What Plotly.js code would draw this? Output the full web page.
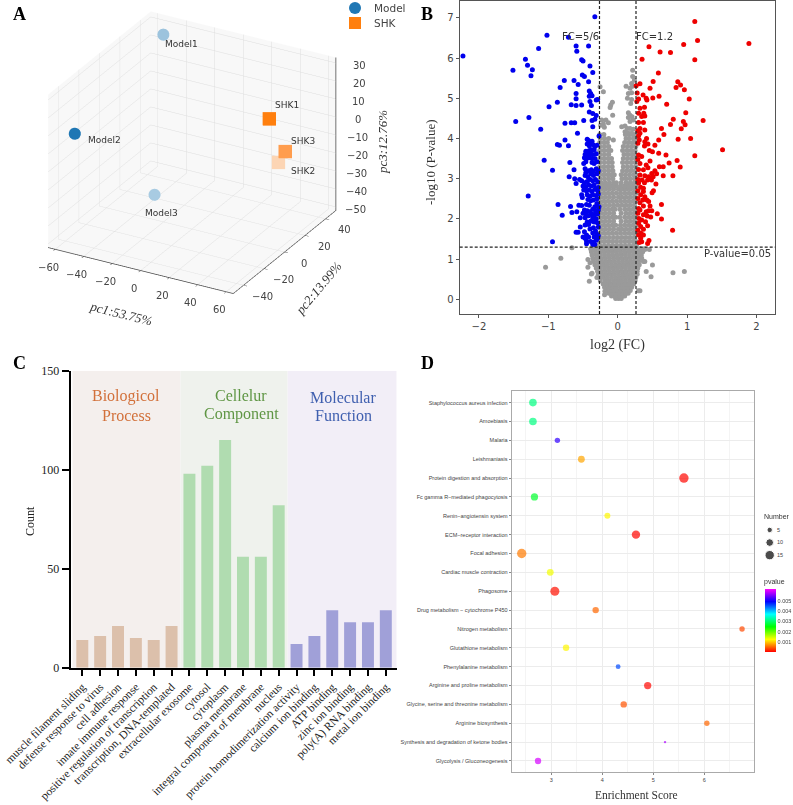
<!DOCTYPE html>
<html><head><meta charset="utf-8">
<script src="https://cdn.plot.ly/plotly-3.0.1.min.js"></script>
<style>html,body{margin:0;padding:0;background:#fff}#g{width:793px;height:805px}</style></head>
<body><div id="g"></div>
<script>
// --- Panel A: PCA
const modelNames=['Model2','Model1','Model3'];
const modelPc1=[-50,-49,-12], modelPc2=[-45,40,-20], modelPc3=[12,28,-26];
const shkNames=['SHK1','SHK2','SHK3'];
const shkPc1=[47,39,51], shkPc2=[10,30,20], shkPc3=[14,-21,-8];
const pc1Ticks=[-60,-40,-20,0,20,40,60], pc2Ticks=[-40,-20,0,20,40], pc3Ticks=[-50,-40,-30,-20,-10,0,10,20,30];
const groupNames=['Model','SHK'];
// --- Panel B: volcano [log2FC, -log10P]
const bluePts=[[-2.23,6.05],[-1.51,5.7],[-1.33,5.97],[-1.30,5.82],[-1.23,5.71],[-1.25,5.56],[-1.14,6.24],[-1.02,6.57],[-.71,6.52],[-.60,6.30],[-.59,6.17],[-.42,6.30],[-.33,7.03],[-.52,5.96],[-.50,5.93],[-.40,5.80],[-.36,5.64],[-.51,5.58],[-.48,5.54],[-.77,5.44],[-.63,5.44],[-.57,5.34],[-.42,5.41],[-.83,5.27],[-.60,5.12],[-.41,5.18],[-.39,5.12],[-.41,5.05],[-.37,5.06],[-.31,4.96],[-.29,4.97],[-.87,4.90],[-.60,4.99],[-.40,4.92],[-.99,4.79],[-.67,4.84],[-.60,4.82],[-.52,4.83],[-.38,4.82],[-.41,4.66],[-.36,4.62],[-.31,4.57],[-1.28,4.52],[-1.47,4.42],[-.49,4.45],[-.33,4.48],[-.37,4.45],[-.76,4.38],[-.67,4.39],[-.62,4.39],[-.36,4.29],[-1.11,4.23],[-.58,4.13],[-.27,4.06],[-.76,3.96],[-.87,3.85],[-.84,3.83],[-.71,3.82],[-.44,3.98],[-.42,3.95],[-.40,3.9],[-.37,3.93],[-.44,3.86],[-.41,3.82],[-.36,3.85],[-.33,3.8],[-.30,3.83],[-.46,3.68],[-.44,3.66],[-.41,3.7],[-.38,3.72],[-.34,3.72],[-.47,3.6],[-.43,3.58],[-.39,3.62],[-.36,3.6],[-.31,3.62],[-.48,3.52],[-.45,3.5],[-.41,3.52],[-.37,3.5],[-.33,3.5],[-.49,3.38],[-.46,3.42],[-.37,3.4],[-.34,3.38],[-.30,3.42],[-.69,3.4],[-1.06,3.46],[-.94,3.21],[-.63,3.22],[-.70,3.05],[-.47,3.25],[-.46,3.15],[-.42,3.2],[-.38,3.22],[-.35,3.18],[-.31,3.25],[-.28,3.2],[-.47,3.08],[-.43,3.05],[-.39,3.12],[-.35,3.08],[-.3,3.12],[-.62,3.0],[-.55,2.98],[-.52,2.95],[-.48,2.9],[-.44,2.93],[-.4,2.98],[-.36,2.95],[-.32,2.98],[-.29,2.92],[-.6,2.88],[-.5,2.82],[-.46,2.8],[-.42,2.85],[-.38,2.82],[-.34,2.84],[-.28,2.78],[-.49,2.72],[-.45,2.7],[-.41,2.72],[-.37,2.68],[-.33,2.74],[-.29,2.7],[-1.29,2.57],[-.52,2.6],[-.51,2.53],[-.44,2.6],[-.4,2.56],[-.36,2.6],[-.31,2.58],[-.28,2.62],[-.43,2.48],[-.39,2.45],[-.35,2.47],[-.3,2.5],[-.86,2.36],[-.68,2.31],[-.56,2.34],[-.52,2.33],[-.45,2.36],[-.41,2.34],[-.3,2.38],[-.33,2.3],[-.27,2.3],[-.48,2.22],[-.44,2.2],[-.4,2.18],[-.36,2.24],[-.32,2.2],[-.28,2.22],[-.66,2.16],[-.59,2.18],[-.5,2.14],[-.46,2.12],[-.42,2.08],[-.37,2.12],[-.33,2.1],[-.29,2.12],[-.8,2.09],[-.54,2.03],[-.47,2.03],[-.36,2.02],[-.31,2.0],[-.44,1.92],[-.39,1.94],[-.34,1.92],[-.29,1.9],[-.47,1.85],[-.42,1.86],[-.54,1.8],[-.4,1.75],[-.35,1.78],[-.28,1.8],[-.32,1.7],[-.6,1.67],[-.57,1.67],[-.48,1.68],[-.45,1.6],[-.36,1.65],[-.3,1.62],[-.5,1.55],[-.47,1.52],[-.42,1.55],[-.34,1.55],[-.28,1.58],[-.94,1.43],[-.45,1.45],[-.39,1.44],[-.35,1.42],[-.31,1.47],[-.29,1.52],[-.45,1.38],[-.36,1.36],[-.33,1.36]];
const redPts=[[1.11,6.91],[1.15,6.44],[.95,6.34],[1.89,6.36],[.45,6.28],[.61,6.15],[.76,6.14],[1.11,5.96],[.35,5.97],[.585,5.63],[.51,5.42],[.32,5.36],[.265,5.31],[.465,5.25],[.865,5.41],[.905,5.33],[.84,5.27],[.96,5.21],[.28,5.13],[.365,5.08],[.41,5.0],[.595,5.05],[.505,5.01],[.42,4.96],[.3,4.98],[.275,4.92],[1.03,4.98],[.705,4.85],[.385,4.78],[.32,4.75],[.3,4.63],[.375,4.63],[.345,4.55],[.39,4.56],[.98,4.64],[.8,4.48],[1.23,4.45],[.945,4.42],[.97,4.34],[.76,4.35],[.3,4.4],[.37,4.4],[.915,4.24],[.63,4.25],[.32,4.25],[.29,4.19],[.39,4.21],[.32,4.13],[.665,4.1],[.3,4.07],[.87,3.98],[1.05,4.0],[.59,3.96],[.415,4.0],[.31,3.96],[.29,3.88],[.39,3.92],[.435,3.86],[.535,3.83],[.385,3.81],[1.51,3.72],[.455,3.7],[.5,3.67],[.59,3.63],[.695,3.59],[1.11,3.57],[.3,3.59],[.345,3.55],[.465,3.44],[.855,3.45],[.74,3.39],[.29,3.48],[.32,3.38],[.41,3.34],[.435,3.27],[.6,3.3],[.655,3.3],[.9,3.29],[.3,3.23],[.37,3.22],[.535,3.2],[.49,3.13],[.56,3.12],[.655,3.07],[.795,3.07],[.32,3.09],[.39,3.07],[.445,3.05],[.51,3.05],[.29,2.98],[.35,2.97],[.43,2.97],[.485,2.97],[.3,2.89],[.385,2.9],[.55,2.87],[.33,2.79],[.37,2.76],[.29,2.7],[.515,2.7],[.495,2.65],[.37,2.68],[.33,2.6],[.39,2.55],[.29,2.51],[.36,2.47],[.42,2.47],[.445,2.43],[.32,2.4],[.63,2.36],[.37,2.32],[.465,2.32],[.3,2.26],[.32,2.22],[.41,2.18],[.445,2.2],[.49,2.2],[.57,2.13],[.29,2.14],[.37,2.1],[.425,2.07],[.305,2.01],[.63,2.0],[.475,2.05],[.345,1.97],[.4,1.93],[.3,1.89],[.43,1.83],[.33,1.81],[.37,1.74],[.79,1.72],[.29,1.72],[.335,1.64],[.3,1.6],[.37,1.6],[.33,1.52],[.45,1.46],[.345,1.43],[.31,1.41],[.43,1.39]];
const grayLoose=[[.215,5.70],[.215,5.54],[.24,5.45],[.2,5.37],[.12,5.30],[.21,5.30],[-.255,5.29],[-.207,5.16],[.177,5.25],[.153,5.12],[.2,5.14],[.14,5.0],[.2,4.97],[.187,4.87],[-.077,4.9],[-.1,4.83],[-.11,4.77],[-.073,4.58],[.153,4.64],[.177,4.58],[.206,4.54],[.153,4.52],[.225,4.46],[.177,4.42],[-.23,4.46],[-.17,4.46],[-.207,4.36],[-.245,4.33],[-.135,4.39],[-.193,4.28],[.057,4.29],[.105,4.31],[.138,4.25],[.177,4.25],[.225,4.23],[.105,4.17],[.153,4.13],[.2,4.13],[-.063,3.96],[-.66,1.28],[-.43,.99],[-.4,.91],[-.37,.65],[-.41,.45],[-.3,.54],[-.19,.11],[-.185,.2],[.297,.21],[.32,.21],[.41,.69],[.48,.56],[.5,.85],[.37,.94],[.345,1.02],[.39,.94],[.32,1.14],[.39,1.24],[.455,1.24],[.796,.66],[.96,.69],[-1.04,.8],[-.82,1.02],[-.38,.63],[-.43,.8]];
const grayRowY=[.02,.08,.15,.22,.3,.38,.46,.54,.62,.7,.78,.86,.94,1.02,1.1,1.18,1.26,1.34,1.44,1.54,1.64,1.74,1.84,1.94,2.04,2.14,2.24,2.34,2.44,2.54,2.64,2.74,2.82,2.9,3.0,3.1,3.2,3.3,3.4,3.5,3.6,3.7,3.8,3.9,4.0,4.1];
const grayRowX=[
[-.03,.01,.05],
[-.09,-.05,-.01,.03,.07,.1],
[-.13,-.08,-.03,.02,.07,.12,.15],
[-.16,-.1,-.05,0,.05,.1,.14,.18],
[-.19,-.13,-.07,-.02,.04,.09,.15,.2],
[-.21,-.15,-.1,-.04,.02,.07,.13,.18,.23],
[-.25,-.18,-.12,-.06,0,.05,.11,.17,.22,.25],
[-.27,-.21,-.15,-.09,-.03,.03,.09,.15,.2,.26],
[-.28,-.23,-.17,-.11,-.05,.01,.07,.13,.19,.24,.28],
[-.29,-.24,-.18,-.12,-.06,0,.06,.12,.18,.23,.28],
[-.31,-.25,-.19,-.13,-.07,-.01,.05,.11,.17,.23,.29],
[-.33,-.27,-.21,-.15,-.09,-.03,.03,.09,.15,.21,.27,.31],
[-.35,-.29,-.23,-.17,-.11,-.05,.01,.07,.13,.19,.25,.3],
[-.36,-.3,-.24,-.18,-.12,-.06,0,.06,.12,.18,.24,.3,.33],
[-.37,-.31,-.25,-.19,-.13,-.07,-.01,.05,.11,.17,.23,.29,.34],
[-.38,-.32,-.26,-.2,-.14,-.08,-.02,.04,.1,.16,.22,.28,.33,.36],
[-.39,-.33,-.27,-.21,-.15,-.09,-.03,.03,.09,.15,.21,.27,.32,.38],
[-.3,-.25,-.19,-.13,-.07,-.01,.05,.11,.17,.23,.27],
[-.26,-.2,-.14,-.08,-.02,.04,.1,.16,.22,.265],
[-.24,-.18,-.12,-.06,0,.06,.12,.18,.24],
[-.26,-.2,-.14,-.08,-.02,.04,.1,.16,.22,.265],
[-.24,-.18,-.12,-.06,.01,.06,.12,.18,.24],
[-.26,-.2,-.14,-.08,-.03,.04,.1,.16,.22,.265],
[-.24,-.18,-.12,-.06,.05,.12,.18,.24],
[-.26,-.2,-.14,-.08,-.03,.03,.1,.16,.22,.265],
[-.24,-.18,-.12,-.06,.05,.12,.18,.24],
[-.26,-.2,-.14,-.08,-.04,.03,.1,.16,.22,.265],
[-.24,-.18,-.12,-.06,0,.06,.12,.18,.24],
[-.26,-.2,-.14,-.08,-.02,.04,.1,.16,.22,.265],
[-.24,-.18,-.12,-.06,.01,.06,.12,.18,.24],
[-.26,-.2,-.14,-.08,-.02,.04,.1,.16,.22,.265],
[-.24,-.18,-.12,-.06,.01,.06,.12,.18,.24],
[-.26,-.2,-.14,-.08,-.02,.04,.1,.16,.22,.265],
[-.24,-.18,-.12,-.06,-.02,.05,.12,.18,.24],
[-.25,-.19,-.13,-.07,.06,.12,.18,.24],
[-.26,-.2,-.14,-.09,-.05,.05,.11,.17,.23,.26],
[-.25,-.19,-.13,-.07,.07,.13,.19,.25],
[-.26,-.2,-.14,-.08,.08,.14,.2,.26],
[-.25,-.19,-.13,-.08,.07,.13,.19,.25],
[-.26,-.2,-.14,-.09,.08,.14,.2,.26],
[-.25,-.19,-.13,.09,.15,.21,.25],
[-.26,-.2,-.14,-.1,.07,.13,.19,.25],
[-.25,-.19,-.13,.08,.14,.2,.26],
[-.26,-.2,-.15,.1,.16,.22],
[-.25,-.19,-.13,.12,.17,.23,.26],
[-.26,-.2,.11,.16,.21,.25]];
const fcLow=-0.263, fcHigh=0.263, pCut=1.3;
// --- Panel C: GO
const goTerms=['muscle filament sliding','defense response to virus','cell adhesion','innate immune response','positive regulation of transcription','transcription, DNA-templated','extracellular exosome','cytosol','cytoplasm','plasma membrane','integral component of membrane','nucleus','protein homodimerization activity','calcium ion binding','ATP binding','zinc ion binding','poly(A) RNA binding','metal ion binding'];
const goCounts=[14,16,21,15,14,21,98,102,115,56,56,82,12,16,29,23,23,29];
// --- Panel D: KEGG
const pathways=['Staphylococcus aureus infection','Amoebiasis','Malaria','Leishmaniasis','Protein digestion and absorption','Fc gamma R\u2212mediated phagocytosis','Renin\u2212angiotensin system','ECM\u2212receptor interaction','Focal adhesion','Cardiac muscle contraction','Phagosome','Drug metabolism \u2212 cytochrome P450','Nitrogen metabolism','Glutathione metabolism','Phenylalanine metabolism','Arginine and proline metabolism','Glycine, serine and threonine metabolism','Arginine biosynthesis','Synthesis and degradation of ketone bodies','Glycolysis / Gluconeogenesis'];
const enrichment=[2.64,2.64,3.12,3.59,5.6,2.67,4.1,4.66,2.42,2.98,3.07,3.87,6.74,3.29,4.31,4.89,4.42,6.05,5.23,2.74];
const numbers=[10,10,5,8,15,9,6,12,15,8,14,7,5,7,4,9,7,5,1,7];
const pvalues=[.0031,.0031,.0052,.0008,.00003,.0027,.0012,.00003,.0006,.0013,.00008,.0005,.00035,.0012,.0046,.00003,.0004,.0005,.0058,.0060];
const numberLegend=[5,10,15];

const W=793,H=805;
const px=(a,b)=>[a/W,b/W], py=(top,bot)=>[1-bot/H,1-top/H];
const serif='Liberation Serif, serif', dj='DejaVu Sans, sans-serif', sans='Liberation Sans, sans-serif';
function note(x,y,text,size,color,family,extra){return Object.assign({xref:'paper',yref:'paper',x:x/W,y:1-y/H,text,showarrow:false,font:{size,color,family},xanchor:'center',yanchor:'middle'},extra||{});}
const rainbow=[[0,'#ff0000'],[.2,'#ffff00'],[.4,'#00ff00'],[.6,'#00ffff'],[.8,'#0000ff'],[1,'#ff00ff']];
const grayX=[],grayY=[];
grayRowX.forEach((r,i)=>r.forEach(v=>{grayX.push(v);grayY.push(grayRowY[i]);}));
grayLoose.forEach(p=>{grayX.push(p[0]);grayY.push(p[1]);});
const xMax=65,yMax=50,zMin=-52,zMax=33;
const zAxX=[xMax,xMax],zAxY=[yMax,yMax],zAxZ=[zMin,zMax];
pc3Ticks.forEach(t=>{zAxX.push(null,xMax,xMax);zAxY.push(null,yMax,yMax+3);zAxZ.push(null,t,t);});

const data=[
 {type:'scatter3d',mode:'lines',x:zAxX,y:zAxY,z:zAxZ,showlegend:false,line:{color:'#444',width:1.5},scene:'scene',hoverinfo:'skip'},
 {type:'scatter3d',mode:'markers',name:'Model',x:modelPc1,y:modelPc2,z:modelPc3,showlegend:false,marker:{size:7,symbol:'circle',color:['#1f77b4','#9cc3dd','#a8cbe2'],line:{width:0}},scene:'scene'},
 {type:'scatter3d',mode:'markers',name:'SHK',x:shkPc1,y:shkPc2,z:shkPc3,showlegend:false,marker:{size:7,symbol:'square',color:['#ff7f0e','#fcd5b4','#ff9d4e'],line:{width:0}},scene:'scene'},
 {type:'scatter',mode:'markers',x:grayX,y:grayY,xaxis:'x',yaxis:'y',showlegend:false,marker:{size:5,color:'#9a9a9a'}},
 {type:'scatter',mode:'markers',x:bluePts.map(p=>p[0]),y:bluePts.map(p=>p[1]),xaxis:'x',yaxis:'y',showlegend:false,marker:{size:5,color:'#0000ee'}},
 {type:'scatter',mode:'markers',x:redPts.map(p=>p[0]),y:redPts.map(p=>p[1]),xaxis:'x',yaxis:'y',showlegend:false,marker:{size:5,color:'#ee0000'}},
 {type:'bar',x:goTerms,y:goCounts,xaxis:'x2',yaxis:'y2',showlegend:false,width:.67,marker:{color:goTerms.map((t,i)=>i<6?'#dcc0ab':i<12?'#b0dcb0':'#a0a0d8')}},
 {type:'scatter',mode:'markers',x:enrichment,y:pathways,xaxis:'x3',yaxis:'y3',showlegend:false,marker:{size:numbers,sizemode:'area',sizeref:.34,color:pvalues,cmin:0,cmax:.0062,colorscale:rainbow,showscale:true,line:{width:0},
   colorbar:{x:764.7/W,xanchor:'left',xpad:0,y:1-652/H,yanchor:'bottom',ypad:0,lenmode:'pixels',len:63,thickness:10.5,thicknessmode:'pixels',outlinewidth:0,tickvals:[.001,.002,.003,.004,.005],ticktext:['0.001','0.002','0.003','0.004','0.005'],ticks:'',tickfont:{size:5.5,family:sans,color:'#444'}}}},
 {type:'scatter',mode:'markers',x:numberLegend.map(()=>0),y:numberLegend,xaxis:'x4',yaxis:'y4',showlegend:false,marker:{size:numberLegend,sizemode:'area',sizeref:.34,color:'#000'}},
 {type:'scatter',mode:'markers',x:[0],y:[groupNames[0]],xaxis:'x5',yaxis:'y5',showlegend:false,marker:{size:12,symbol:'circle',color:'#1f77b4'}},
 {type:'scatter',mode:'markers',x:[0],y:[groupNames[1]],xaxis:'x5',yaxis:'y5',showlegend:false,marker:{size:12,symbol:'square',color:'#ff7f0e'}}
];

const axis3d=(range,tv)=>({range,tickvals:tv,title:{text:''},showbackground:true,backgroundcolor:'#f8f8f8',gridcolor:'#dedede',gridwidth:1,showline:true,linecolor:'#444',linewidth:1.5,zeroline:false,showspikes:false,ticks:'outside',ticklen:4,tickcolor:'#444',showticklabels:false});
const lbl=(x,y,z,text,xshift,yshift)=>({x,y,z,text,showarrow:false,xanchor:'left',yanchor:'middle',xshift,yshift,font:{size:9,color:'#333',family:dj}});
const tickText=t=>t<0?'\u2212'+(-t):String(t);
const tickLbl=(x,y,z,t,xshift,yshift)=>({x,y,z,text:tickText(t),showarrow:false,xanchor:'center',yanchor:'middle',xshift,yshift,font:{size:10,color:'#444',family:dj}});
const zLbl=t=>tickLbl(xMax,yMax,t,t,20+(t+50)*.05,-3);
const zAxis=axis3d([zMin,zMax],pc3Ticks);zAxis.ticks='';zAxis.showline=false;

const layout={
 width:W,height:H,autosize:false,margin:{l:0,r:0,t:0,b:0},paper_bgcolor:'#fff',plot_bgcolor:'rgba(0,0,0,0)',showlegend:false,
 scene:{domain:{x:px(0,384),y:py(0,340)},bgcolor:'rgba(0,0,0,0)',aspectmode:'manual',aspectratio:{x:1.245,y:1.245,z:1.007},
   camera:{projection:{type:'orthographic'},eye:{x:1.54,y:-2.78,z:1.48},center:{x:0,y:0,z:-.115},up:{x:0,y:0,z:1}},
   xaxis:axis3d([-xMax,xMax],pc1Ticks),
   yaxis:axis3d([-yMax,yMax],pc2Ticks),
   zaxis:zAxis,
   annotations:[lbl(-49,40,28,'Model1',0,-10),lbl(-50,-45,12,'Model2',11,-6),lbl(-12,-20,-26,'Model3',-11,-18),lbl(47,10,14,'SHK1',4,14),lbl(51,20,-8,'SHK3',4,10),lbl(39,30,-21,'SHK2',11,-9)]
     .concat(pc3Ticks.map(zLbl))
     .concat(pc1Ticks.map(t=>tickLbl(t,-yMax,zMin,t,-7,-18)))
     .concat(pc2Ticks.map(t=>tickLbl(xMax,t,zMin,t,19,-11)))},
 xaxis:{domain:px(459.7,775.3),anchor:'y',range:[-2.277,2.27],tickvals:[-2,-1,0,1,2],ticktext:['\u22122','\u22121','0','1','2'],showline:true,mirror:true,linecolor:'#555',linewidth:1,ticks:'outside',ticklen:3,tickcolor:'#555',showgrid:false,zeroline:false,tickfont:{size:10,family:dj,color:'#444'}},
 yaxis:{domain:py(1,314),anchor:'x',range:[-.366,7.42],tickvals:[0,1,2,3,4,5,6,7],showline:true,mirror:true,linecolor:'#555',linewidth:1,ticks:'outside',ticklen:3,tickcolor:'#555',showgrid:false,zeroline:false,tickfont:{size:10,family:dj,color:'#444'}},
 xaxis2:{domain:px(70.7,396.7),anchor:'y2',type:'category',categoryorder:'array',categoryarray:goTerms,range:[-.65,17.61],tickangle:-45,showline:true,linecolor:'#000',linewidth:2,ticks:'outside',ticklen:6,tickwidth:2,tickcolor:'#000',showgrid:false,zeroline:false,tickfont:{size:11.5,family:serif,color:'#222'},automargin:false},
 yaxis2:{domain:py(370.7,667.7),anchor:'x2',range:[0,150],tickvals:[0,50,100,150],showline:true,linecolor:'#000',linewidth:2,ticks:'outside',ticklen:7,tickwidth:2,tickcolor:'#000',showgrid:false,zeroline:false,tickfont:{size:12,family:serif,color:'#222'}},
 xaxis3:{domain:px(511.7,754.3),anchor:'y3',range:[2.224,6.98],tickvals:[3,4,5,6],showline:true,mirror:true,linecolor:'#aaa',linewidth:1,ticks:'outside',ticklen:2,tickcolor:'#888',gridcolor:'#ececec',showgrid:true,zeroline:false,minor:{dtick:.5,tick0:2.5,showgrid:true,gridcolor:'#f4f4f4',ticks:''},tickfont:{size:5.5,family:sans,color:'#444'}},
 yaxis3:{domain:py(391.3,772.3),anchor:'x3',type:'category',categoryorder:'array',categoryarray:pathways,range:[19.6,-.6],showline:true,mirror:true,linecolor:'#aaa',linewidth:1,ticks:'outside',ticklen:2,tickcolor:'#888',gridcolor:'#ececec',showgrid:true,zeroline:false,tickfont:{size:5.5,family:sans,color:'#444'}},
 xaxis4:{domain:px(762,776),anchor:'y4',range:[-7.7,6.3],visible:false},
 yaxis4:{domain:py(521,565),anchor:'x4',side:'right',range:[18.9,1.45],tickvals:numberLegend,showline:false,showgrid:false,zeroline:false,ticks:'',tickfont:{size:5.5,family:sans,color:'#444'}},
 xaxis5:{domain:px(345,365),anchor:'y5',range:[-1,1],visible:false},
 yaxis5:{domain:py(0,30.5),anchor:'x5',type:'category',categoryorder:'array',categoryarray:groupNames,range:[1.5,-.53],visible:false},
 shapes:[
  {type:'line',xref:'x',yref:'y domain',x0:fcLow,x1:fcLow,y0:0,y1:1,line:{color:'#222',width:1.2,dash:'3px,2px'}},
  {type:'line',xref:'x',yref:'y domain',x0:fcHigh,x1:fcHigh,y0:0,y1:1,line:{color:'#222',width:1.2,dash:'3px,2px'}},
  {type:'line',xref:'x domain',yref:'y',x0:0,x1:1,y0:pCut,y1:pCut,line:{color:'#222',width:1.2,dash:'3px,2px'}},
  {type:'rect',layer:'below',xref:'x2',yref:'y2',x0:-.55,x1:5.5,y0:0,y1:150,line:{width:0},fillcolor:'#f4efed'},
  {type:'rect',layer:'below',xref:'x2',yref:'y2',x0:5.5,x1:11.5,y0:0,y1:150,line:{width:0},fillcolor:'#eff2ed'},
  {type:'rect',layer:'below',xref:'x2',yref:'y2',x0:11.5,x1:17.61,y0:0,y1:150,line:{width:0},fillcolor:'#f2eef7'}
 ],
 annotations:[
  note(19,14,'<b>A</b>',18,'#000',serif),
  note(427,14,'<b>B</b>',18,'#000',serif),
  note(19,363,'<b>C</b>',18,'#000',serif),
  note(427,363,'<b>D</b>',18,'#000',serif),
  note(372,8,groupNames[0],10.5,'#444',dj,{xanchor:'left'}),
  note(372,23,groupNames[1],10.5,'#444',dj,{xanchor:'left'}),
  note(121,313,'<i>pc1:53.75%</i>',13,'#333',serif,{textangle:14}),
  note(318,288,'<i>pc2:13.99%</i>',13,'#333',serif,{textangle:-50}),
  note(383,142,'<i>pc3:12.76%</i>',13,'#333',serif,{textangle:-90}),
  note(431,162,'-log10 (P-value)',13,'#333',serif,{textangle:-90}),
  note(617,345,'log2 (FC)',14,'#333',serif),
  note(580,36,'FC=5/6',10,'#333',dj),
  note(654,36,'FC=1.2',10,'#333',dj),
  note(737,253,'P-value=0.05',10,'#333',dj),
  note(30,521,'Count',12,'#222',serif,{textangle:-90}),
  note(126,396,'Biologicol',16,'#d2703a',serif),note(126,415,'Process',16,'#d2703a',serif),
  note(241,396,'Cellelur',16,'#5f9644',serif),note(241,414,'Component',16,'#5f9644',serif),
  note(343,397,'Molecular',16,'#3f5faf',serif),note(343,415,'Function',16,'#3f5faf',serif),
  note(636,795,'Enrichment Score',11.5,'#333',serif),
  note(777,516,'Number',7,'#333',sans),
  note(774,582,'pvalue',7,'#333',sans)
 ]
};
Plotly.newPlot('g',data,layout,{displayModeBar:false,staticPlot:false});
</script></body></html>
